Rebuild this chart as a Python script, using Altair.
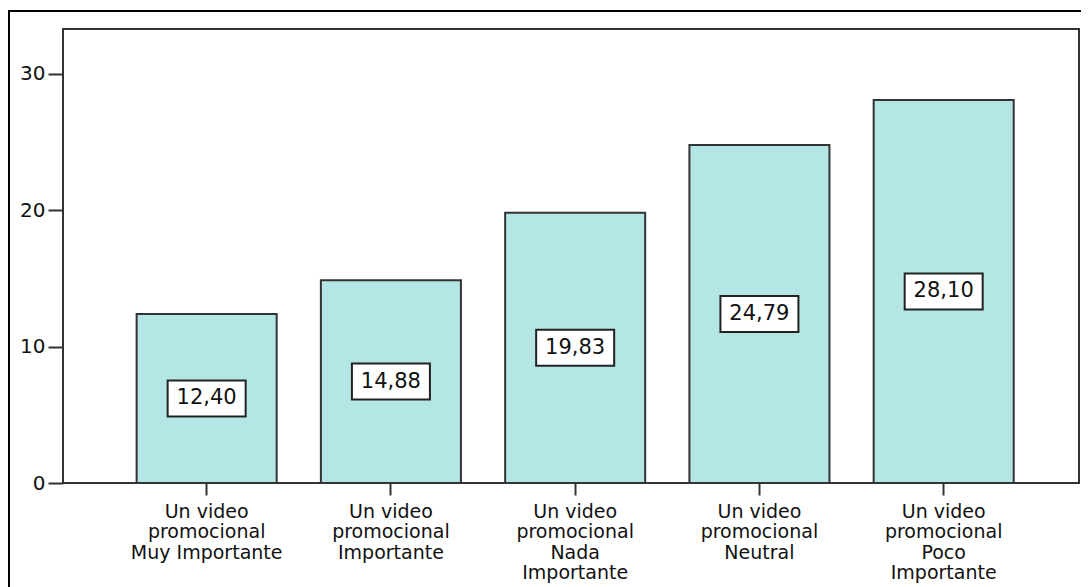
import altair as alt
import pandas as pd

categories = [
    "Un video\npromocional\nMuy Importante",
    "Un video\npromocional\nImportante",
    "Un video\npromocional\nNada\nImportante",
    "Un video\npromocional\nNeutral",
    "Un video\npromocional\nPoco\nImportante",
]
values = [12.40, 14.88, 19.83, 24.79, 28.10]
value_labels = ["12,40", "14,88", "19,83", "24,79", "28,10"]
y_ticks = [0, 10, 20, 30]

df = pd.DataFrame({"cat": categories, "value": values, "label": value_labels})

FONT = "DejaVu Sans"

xenc = alt.X(
    "cat:N",
    sort=categories,
    title=None,
    scale=alt.Scale(paddingInner=0.24, paddingOuter=0.377, align=0.53),
    axis=alt.Axis(
        labelExpr="split(datum.label, '\\n')",
        labelAngle=0,
        labelFont=FONT,
        labelFontSize=19,
        labelLineHeight=20.5,
        labelColor="#111111",
        labelPadding=7,
        tickSize=12,
        tickWidth=2,
        tickColor="#333333",
        domain=False,
        labelBaseline="top",
    ),
)

yscale = alt.Scale(domain=[0, 33.3], nice=False)

base = alt.Chart(df)

bars = base.mark_bar(fill="#b4e6e6", stroke="#333333", strokeWidth=2).encode(
    x=xenc,
    y=alt.Y(
        "value:Q",
        scale=yscale,
        title=None,
        axis=alt.Axis(
            values=y_ticks,
            grid=False,
            domain=False,
            labelFont=FONT,
            labelFontSize=20,
            labelColor="#111111",
            labelPadding=3,
            tickSize=15,
            tickWidth=2,
            tickColor="#333333",
        ),
    ),
)

box_path = "M-1,-0.4615L1,-0.4615L1,0.4615L-1,0.4615Z"

boxes = base.transform_calculate(mid="datum.value / 2").mark_point(
    shape=box_path, size=6084, filled=True, fill="white", stroke="#222222",
    strokeWidth=2, opacity=1
).encode(
    x=alt.X("cat:N", sort=categories),
    y=alt.Y("mid:Q", scale=yscale),
)

texts = base.transform_calculate(mid="datum.value / 2").mark_text(
    font=FONT, fontSize=21, color="#111111", baseline="middle", align="center"
).encode(
    x=alt.X("cat:N", sort=categories),
    y=alt.Y("mid:Q", scale=yscale),
    text="label:N",
)

outer = base.mark_rect(fill="transparent", stroke="black", strokeWidth=2, clip=False).encode(
    x=alt.value(-54), x2=alt.value(1100), y=alt.value(-18), y2=alt.value(700)
)

chart = alt.layer(outer, bars, boxes, texts).properties(
    width=1016,
    height=454,
    autosize=alt.AutoSizeParams(type="none"),
    padding={"left": 55, "top": 21, "right": 2, "bottom": 104},
    background="white",
).configure_view(stroke="#333333", strokeWidth=2)

chart.save("out.html", embed_options={"renderer": "svg", "actions": False})
